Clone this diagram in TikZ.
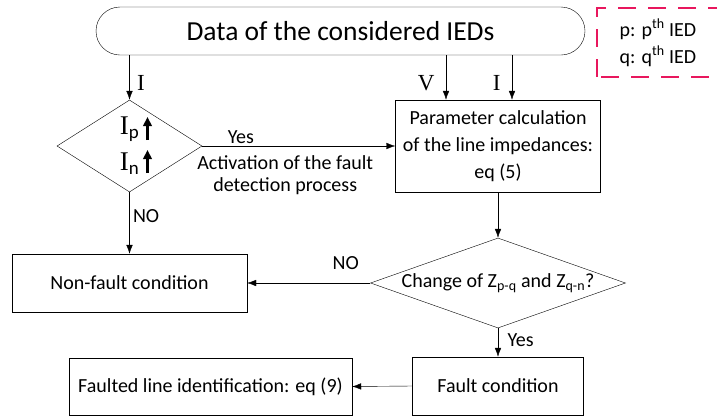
\documentclass[tikz,border=0pt]{standalone}
\usepackage{fontspec}
\setmainfont{Carlito}
\newfontfamily\timesfont{Liberation Serif}
\usetikzlibrary{shapes.geometric,arrows.meta}
\definecolor{keyred}{HTML}{E8175D}

\begin{document}
\begin{tikzpicture}[x=1pt,y=-1pt,
    >={Latex[length=9pt,width=6.5pt]},
    every node/.style={font=\fontsize{20}{27}\selectfont},
    box/.style={draw,rectangle,inner sep=0pt,align=center},
    test/.style={draw,diamond,inner sep=0pt,align=center},
    sig/.style={font=\fontsize{23}{26}\selectfont\timesfont},
    rise/.style={-{Triangle[length=9pt,width=8.5pt]},line width=2.6pt}]
%\draw [help lines] (0,0) grid (717,416);
    \useasboundingbox (0,0) rectangle (717,416);
    \node[box,rounded corners=24pt,minimum width=489pt,minimum height=48pt,
        font=\fontsize{27.5}{30}\selectfont] (data) at (340.5,31) {Data of the considered IEDs};
    \node[draw=keyred,dash pattern=on 18pt off 12pt,dash phase=-4pt,line width=2.6pt,
        minimum width=122pt,minimum height=69pt,align=center] (key) at (658,42.5)
        {p: p\textsuperscript{th} IED\\q: q\textsuperscript{th} IED};
    \node[test,aspect=1.6,minimum width=145pt,minimum height=92pt,
        font=\fontsize{27}{36}\selectfont] (ovc) at (129.5,146)
        {{\timesfont I}\textsubscript{p}\\{\timesfont I}\textsubscript{n}};
    \node[box,minimum width=205pt,minimum height=92pt] (calc) at (498,146)
        {Parameter calculation\\of the line impedances:\\eq (5)};
    \node[test,aspect=2.83,inner xsep=-6pt,minimum width=255pt,minimum height=90pt] (chg) at (498,283)
        {Change of Z\textsubscript{p-q} and Z\textsubscript{q-n}?};
    \node[box,minimum width=235pt,minimum height=58pt] (nofault) at (129.5,283) {Non-fault condition};
    \node[box,minimum width=171pt,minimum height=58pt] (fault) at (498,386) {Fault condition};
    \node[box,minimum width=283pt,minimum height=57pt] (faulted) at (210.5,386.5) {Faulted line identification: eq (9)};
    % rising currents
    \draw[rise] ([shift={(18,-6)}]ovc.center) -- ++(0,-23);
    \draw[rise] ([shift={(18,27)}]ovc.center) -- ++(0,-23);

    \coordinate (vin) at ([xshift=-52pt]calc.north);
    \coordinate (iin) at ([xshift=14pt]calc.north);
    \draw[->] (data.south -| ovc.north) -- node[sig,right,pos=0.62,xshift=4pt] {I} (ovc.north);
    \draw[->] (data.south -| vin) -- node[sig,left,pos=0.62,xshift=-8pt] {V} (vin);
    \draw[->] (data.south -| iin) -- node[sig,left,pos=0.62,xshift=-8pt] {I} (iin);
    \draw[->] (ovc.east) -- node[above,pos=0.2,inner sep=2pt] {Yes}
        node[below,pos=0.43,align=center,font=\fontsize{20}{22}\selectfont,yshift=-6pt]
        {Activation of the fault\\detection process} (calc.west);
    \draw[->] (ovc.south) -- node[right,pos=0.38] {NO} (nofault.north);
    \draw[->] (calc.south) -- (chg.north);
    \draw[->] (chg.west) -- node[above,pos=0.2,yshift=10pt] {NO} (nofault.east);
    \draw[->] (chg.south) -- node[right,pos=0.43,xshift=6pt] {Yes} (fault.north);
    \draw[->] (fault.west) -- (faulted.east);
\end{tikzpicture}
\end{document}
